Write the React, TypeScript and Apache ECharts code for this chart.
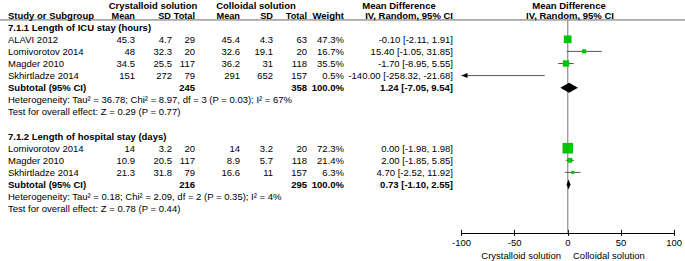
import React, { useEffect, useRef } from "react";
import * as echarts from "echarts";

// ---------- data ----------
const group1Title = "7.1.1 Length of ICU stay (hours)";
const studies1 = ["ALAVI 2012", "Lomivorotov 2014", "Magder 2010", "Skhirtladze 2014"];
const crystMean1 = [45.3, 48, 34.5, 151];
const crystSD1 = [4.7, 32.3, 25.5, 272];
const crystN1 = [29, 20, 117, 79];
const collMean1 = [45.4, 32.6, 36.2, 291];
const collSD1 = [4.3, 19.1, 31, 652];
const collN1 = [63, 20, 118, 157];
const weight1 = [47.3, 16.7, 35.5, 0.5];
const md1 = [-0.1, 15.4, -1.7, -140.0];
const lo1 = [-2.11, -1.05, -8.95, -258.32];
const hi1 = [1.91, 31.85, 5.55, -21.68];
const subtotal1 = { crystN: 245, collN: 358, weight: 100.0, md: 1.24, lo: -7.05, hi: 9.54 };
const het1 = "Heterogeneity: Tau\u00b2 = 36.78; Chi\u00b2 = 8.97, df = 3 (P = 0.03); I\u00b2 = 67%";
const test1 = "Test for overall effect: Z = 0.29 (P = 0.77)";

const group2Title = "7.1.2 Length of hospital stay (days)";
const studies2 = ["Lomivorotov 2014", "Magder 2010", "Skhirtladze 2014"];
const crystMean2 = [14, 10.9, 21.3];
const crystSD2 = [3.2, 20.5, 31.8];
const crystN2 = [20, 117, 79];
const collMean2 = [14, 8.9, 16.6];
const collSD2 = [3.2, 5.7, 11];
const collN2 = [20, 118, 157];
const weight2 = [72.3, 21.4, 6.3];
const md2 = [0.0, 2.0, 4.7];
const lo2 = [-1.98, -1.85, -2.52];
const hi2 = [1.98, 5.85, 11.92];
const subtotal2 = { crystN: 216, collN: 295, weight: 100.0, md: 0.73, lo: -1.1, hi: 2.55 };
const het2 = "Heterogeneity: Tau\u00b2 = 0.18; Chi\u00b2 = 2.09, df = 2 (P = 0.35); I\u00b2 = 4%";
const test2 = "Test for overall effect: Z = 0.78 (P = 0.44)";

const xTicks = { min: -100, max: 100, interval: 50 };
const favoursLeft = "Crystalloid solution";
const favoursRight = "Colloidal solution";

// ---------- layout ----------
const FONT = "'Liberation Sans', Arial, sans-serif";
const FS = 9.5;
const FS_HEAD = 9.2;
const ROW_H = 12.1;
const ROW0_Y = 39.3;
const Y_MIN = -3.2;
const Y_MAX = 16;
const GRID_TOP = ROW0_Y + Y_MIN * ROW_H;
const GRID_H = (Y_MAX - Y_MIN) * ROW_H;
const HEADER_LINE_ROW = -1.6;

const COL = { study: 8, cMean: 135, cSD: 172, cN: 195, oMean: 240, oSD: 273, oN: 307, w: 344, ci: 453 };

type Cell = { x: number; text: string; align: "left" | "right" | "center"; bold?: boolean; fs?: number };
type Row = { row: number; cells: Cell[] };

const fmtCI = (m: number, l: number, h: number) => `${m.toFixed(2)} [${l.toFixed(2)}, ${h.toFixed(2)}]`;

function buildRows(): Row[] {
  const rows: Row[] = [];
  rows.push({
    row: -2.83,
    cells: [
      { x: 153, text: "Crystalloid solution", align: "center", bold: true },
      { x: 256, text: "Colloidal solution", align: "center", bold: true },
      { x: 399, text: "Mean Difference", align: "center", bold: true },
      { x: 569, text: "Mean Difference", align: "center", bold: true },
    ],
  });
  rows.push({
    row: -1.93,
    cells: [
      { x: COL.study, text: "Study or Subgroup", align: "left", bold: true },
      { x: COL.cMean, text: "Mean", align: "right", bold: true, fs: FS_HEAD },
      { x: COL.cSD - 1, text: "SD", align: "right", bold: true, fs: FS_HEAD },
      { x: COL.cN, text: "Total", align: "right", bold: true, fs: FS_HEAD },
      { x: COL.oMean, text: "Mean", align: "right", bold: true, fs: FS_HEAD },
      { x: COL.oSD, text: "SD", align: "right", bold: true, fs: FS_HEAD },
      { x: COL.oN, text: "Total", align: "right", bold: true, fs: FS_HEAD },
      { x: COL.w, text: "Weight", align: "right", bold: true },
      { x: COL.ci, text: "IV, Random, 95% CI", align: "right", bold: true },
      { x: 570, text: "IV, Random, 95% CI", align: "center", bold: true },
    ],
  });
  const addGroup = (
    start: number, title: string, studies: string[], cm: number[], cs: number[], cn: number[],
    om: number[], os: number[], on: number[], w: number[], md: number[], lo: number[], hi: number[],
    sub: typeof subtotal1, het: string, test: string
  ) => {
    rows.push({ row: start - 1, cells: [{ x: COL.study, text: title, align: "left", bold: true }] });
    studies.forEach((s, i) => {
      rows.push({
        row: start + i,
        cells: [
          { x: COL.study, text: s, align: "left" },
          { x: COL.cMean, text: String(cm[i]), align: "right" },
          { x: COL.cSD, text: String(cs[i]), align: "right" },
          { x: COL.cN, text: String(cn[i]), align: "right" },
          { x: COL.oMean, text: String(om[i]), align: "right" },
          { x: COL.oSD, text: String(os[i]), align: "right" },
          { x: COL.oN, text: String(on[i]), align: "right" },
          { x: COL.w, text: w[i].toFixed(1) + "%", align: "right" },
          { x: COL.ci, text: fmtCI(md[i], lo[i], hi[i]), align: "right" },
        ],
      });
    });
    const sr = start + studies.length;
    rows.push({
      row: sr,
      cells: [
        { x: COL.study, text: "Subtotal (95% CI)", align: "left", bold: true },
        { x: COL.cN, text: String(sub.crystN), align: "right", bold: true },
        { x: COL.oN, text: String(sub.collN), align: "right", bold: true },
        { x: COL.w, text: sub.weight.toFixed(1) + "%", align: "right", bold: true },
        { x: COL.ci, text: fmtCI(sub.md, sub.lo, sub.hi), align: "right", bold: true },
      ],
    });
    rows.push({ row: sr + 1, cells: [{ x: COL.study, text: het, align: "left" }] });
    rows.push({ row: sr + 2, cells: [{ x: COL.study, text: test, align: "left" }] });
    return sr;
  };
  const s1 = addGroup(0, group1Title, studies1, crystMean1, crystSD1, crystN1, collMean1, collSD1, collN1,
    weight1, md1, lo1, hi1, subtotal1, het1, test1);
  const g2 = s1 + 5;
  addGroup(g2, group2Title, studies2, crystMean2, crystSD2, crystN2, collMean2, collSD2, collN2,
    weight2, md2, lo2, hi2, subtotal2, het2, test2);
  return rows;
}

export default function App() {
  const ref = useRef<HTMLDivElement>(null);
  useEffect(() => {
    if (!ref.current) return;
    const chart = echarts.init(ref.current, undefined, { renderer: "svg" });
    const rows = buildRows();
    const g2Start = studies1.length + 5;

    const studyData: number[][] = [];
    md1.forEach((m, i) => studyData.push([m, i, lo1[i], hi1[i], weight1[i]]));
    md2.forEach((m, i) => studyData.push([m, g2Start + i, lo2[i], hi2[i], weight2[i]]));
    const diamondData = [
      [subtotal1.md, studies1.length, subtotal1.lo, subtotal1.hi],
      [subtotal2.md, g2Start + studies2.length, subtotal2.lo, subtotal2.hi],
    ];

    const textStyle = (c: Cell) => ({
      text: c.text,
      fill: "#000",
      fontSize: c.fs ?? FS,
      fontFamily: FONT,
      fontWeight: c.bold ? "bold" : "normal",
      align: c.align,
      verticalAlign: "middle",
      textAlign: c.align,
      textVerticalAlign: "middle",
    });

    const option: any = {
      animation: false,
      grid: { left: 461.5, width: 215, top: GRID_TOP, height: GRID_H },
      xAxis: [
        {
          type: "value", min: xTicks.min, max: xTicks.max, interval: xTicks.interval, position: "bottom",
          axisLine: { show: true, onZero: false, lineStyle: { color: "#000", width: 1 } },
          axisTick: { show: true, inside: false, length: 3, lineStyle: { color: "#000" } },
          axisLabel: { margin: 5, fontSize: 9.5, color: "#000", fontFamily: FONT },
          splitLine: { show: false },
        },
        {
          type: "value", min: xTicks.min, max: xTicks.max, interval: xTicks.interval, position: "bottom",
          axisLine: { show: false, onZero: false },
          axisTick: { show: true, inside: true, length: 3, lineStyle: { color: "#000" } },
          axisLabel: { show: false },
          splitLine: { show: false },
        },
      ],
      yAxis: { type: "value", min: Y_MIN, max: Y_MAX, inverse: true, show: false },
      graphic: [
        {
          type: "text", x: 561, y: 255,
          style: { text: favoursLeft, fill: "#000", fontSize: FS, fontFamily: FONT, textAlign: "right", align: "right", textVerticalAlign: "middle", verticalAlign: "middle" },
        },
        {
          type: "text", x: 573, y: 255,
          style: { text: favoursRight, fill: "#000", fontSize: FS, fontFamily: FONT, textAlign: "left", align: "left", textVerticalAlign: "middle", verticalAlign: "middle" },
        },
      ],
      series: [
        {
          type: "custom", name: "frame", coordinateSystem: "cartesian2d", clip: false, silent: true, z: 1,
          data: [[0, HEADER_LINE_ROW]],
          renderItem: (params: any, api: any) => {
            const top = api.coord([0, HEADER_LINE_ROW]);
            const bot = api.coord([0, Y_MAX]);
            return {
              type: "group",
              children: [
                { type: "line", shape: { x1: 0, y1: top[1], x2: 685, y2: top[1] }, style: { stroke: "#666", lineWidth: 1 } },
                { type: "line", shape: { x1: top[0], y1: top[1], x2: bot[0], y2: bot[1] }, style: { stroke: "#777", lineWidth: 1 } },
              ],
            };
          },
        },
        {
          type: "custom", name: "table", coordinateSystem: "cartesian2d", clip: false, silent: true, z: 3,
          data: rows.map((r) => [0, r.row]),
          renderItem: (params: any, api: any) => {
            const r = rows[params.dataIndex];
            const y = api.coord([0, api.value(1)])[1];
            return {
              type: "group",
              children: r.cells.map((c) => ({ type: "text", x: c.x, y, style: textStyle(c) })),
            };
          },
        },
        {
          type: "custom", name: "studies", coordinateSystem: "cartesian2d", clip: false, silent: true, z: 4,
          data: studyData,
          renderItem: (params: any, api: any) => {
            const m = api.value(0), row = api.value(1), lo = api.value(2), hi = api.value(3), w = api.value(4);
            const y = api.coord([0, row])[1];
            const xl = api.coord([Math.max(lo, xTicks.min), row])[0];
            const xr = api.coord([Math.min(hi, xTicks.max), row])[0];
            const children: any[] = [
              { type: "line", shape: { x1: xl, y1: y, x2: xr, y2: y }, style: { stroke: "#555", lineWidth: 1 } },
            ];
            if (lo < xTicks.min) {
              children.push({ type: "polygon", shape: { points: [[xl, y], [xl + 6, y - 2.5], [xl + 6, y + 2.5]] }, style: { fill: "#000" } });
            }
            if (hi > xTicks.max) {
              children.push({ type: "polygon", shape: { points: [[xr, y], [xr - 6, y - 2.5], [xr - 6, y + 2.5]] }, style: { fill: "#000" } });
            }
            if (m >= xTicks.min && m <= xTicks.max) {
              const cx = api.coord([m, row])[0];
              const s = 2.3 + 0.114 * w;
              children.push({ type: "rect", shape: { x: cx - s / 2, y: y - s / 2, width: s, height: s }, style: { fill: "#00c400" } });
            }
            return { type: "group", children };
          },
        },
        {
          type: "custom", name: "subtotals", coordinateSystem: "cartesian2d", clip: false, silent: true, z: 5,
          data: diamondData,
          renderItem: (params: any, api: any) => {
            const m = api.value(0), row = api.value(1), lo = api.value(2), hi = api.value(3);
            const pm = api.coord([m, row]);
            const pl = api.coord([lo, row]);
            const ph = api.coord([hi, row]);
            const h = 5;
            return {
              type: "polygon",
              shape: { points: [[pl[0], pm[1]], [pm[0], pm[1] - h], [ph[0], pm[1]], [pm[0], pm[1] + h]] },
              style: { fill: "#000" },
            };
          },
        },
      ],
    };
    chart.setOption(option);
    return () => chart.dispose();
  }, []);
  return <div ref={ref} style={{ width: 685, height: 261, position: "absolute", left: 0, top: 0 }} />;
}
